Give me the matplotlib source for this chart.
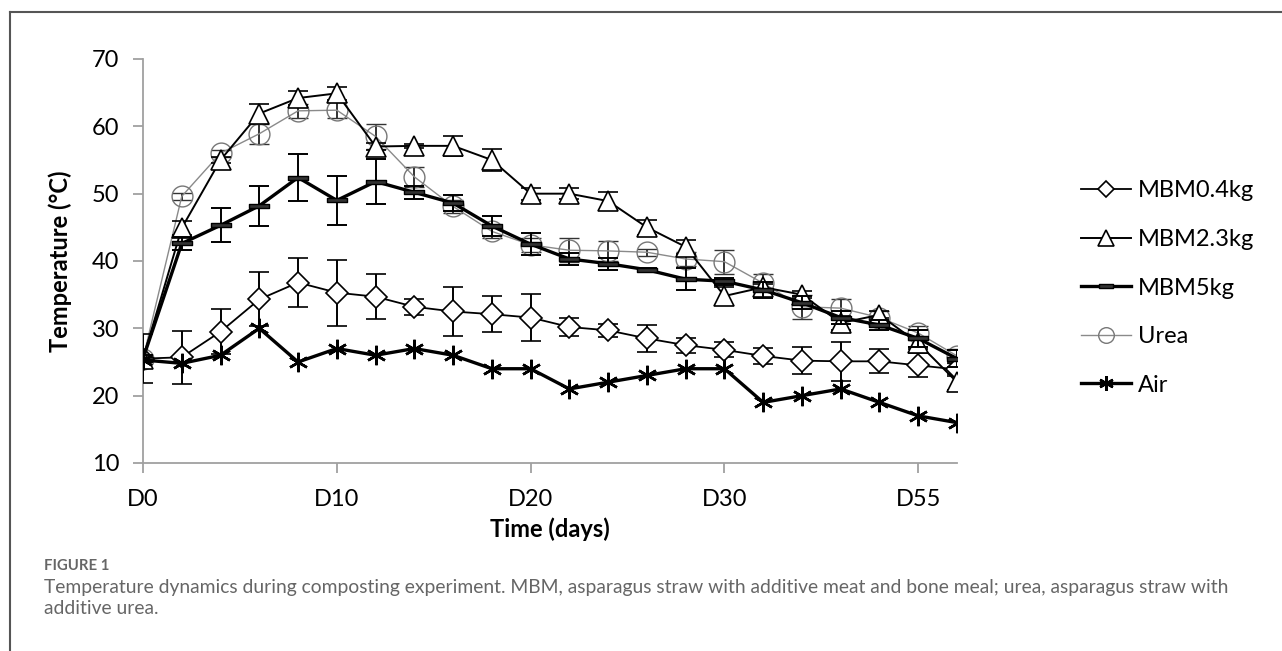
import matplotlib
matplotlib.use("Agg")
import matplotlib.pyplot as plt
from matplotlib.lines import Line2D
from matplotlib.path import Path

plt.rcParams["font.family"] = ["Lato", "DejaVu Sans"]

# sampling points (every 2nd day slot), labelled every 5 points
x = list(range(0, 43, 2))
tick_pos = [0, 10, 20, 30, 40]
tick_labels = ["D0", "D10", "D20", "D30", "D55"]

mbm04 = [25.5, 25.7, 29.5, 34.3, 36.8, 35.3, 34.7, 33.2, 32.5, 32.1, 31.6,
         30.2, 29.7, 28.5, 27.5, 26.8, 25.9, 25.2, 25.1, 25.1, 24.5, 23.9]
mbm04_err = [3.6, 3.9, 3.3, 4.0, 3.7, 4.9, 3.3, 1.2, 3.7, 2.7, 3.5,
             1.4, 1.0, 2.0, 1.1, 1.1, 1.2, 2.0, 2.9, 1.8, 1.8, 1.0]

mbm23 = [25.5, 44.9, 55.0, 61.9, 64.2, 64.9, 57.0, 57.1, 57.1, 55.0, 50.0,
         50.0, 48.9, 45.0, 42.1, 34.8, 36.1, 35.0, 30.8, 32.0, 27.8, 22.0]
mbm23_err = [0.5, 1.0, 0.5, 1.4, 1.0, 1.0, 0.5, 0.3, 1.5, 1.6, 0.9,
             0.8, 1.4, 1.1, 1.0, 1.4, 0.5, 0.5, 1.0, 0.5, 0.8, 1.2]

mbm5 = [25.5, 42.6, 45.3, 48.2, 52.4, 49.0, 51.8, 50.2, 48.6, 45.2, 42.5,
        40.3, 39.6, 38.7, 37.3, 37.0, 35.7, 33.8, 31.6, 30.5, 28.5, 25.5]
mbm5_err = [0.5, 1.0, 2.5, 3.0, 3.5, 3.6, 3.4, 1.0, 1.2, 1.5, 1.6,
            0.9, 0.9, 0.3, 1.6, 0.5, 1.2, 1.0, 1.0, 0.8, 1.2, 1.3]

urea = [25.5, 49.6, 56.0, 58.9, 62.3, 62.4, 58.5, 52.5, 48.1, 44.4, 42.4,
        41.6, 41.5, 41.3, 40.3, 39.9, 36.7, 33.2, 33.0, 31.6, 29.3, 25.9]
urea_err = [0.5, 0.5, 0.5, 1.5, 1.0, 1.2, 1.8, 1.5, 1.0, 1.0, 1.0,
            1.8, 1.5, 0.5, 1.0, 1.8, 1.4, 1.8, 1.4, 1.0, 1.0, 1.0]

air = [25.3, 24.8, 26.0, 30.0, 25.0, 27.0, 26.0, 27.0, 26.0, 24.0, 24.0,
       21.0, 22.0, 23.0, 24.0, 24.0, 19.0, 20.0, 21.0, 19.0, 17.0, 16.0]

# flat bar marker like the Excel "dash"
dash = Path([(-1, -0.22), (1, -0.22), (1, 0.22), (-1, 0.22), (-1, -0.22)],
            [Path.MOVETO, Path.LINETO, Path.LINETO, Path.LINETO, Path.CLOSEPOLY])

fig = plt.figure(figsize=(12.82, 6.51), dpi=100)
ax = fig.add_axes([143 / 1282, 1 - 463 / 651, (957 - 143) / 1282, (463 - 59) / 651])

eb = dict(capsize=7, elinewidth=1.4, capthick=1.4)

ax.errorbar(x, urea, yerr=urea_err, color="#8a8a8a", lw=1.0, marker="o", ms=15,
            mfc="none", mec="#777777", mew=1.0, label="Urea", zorder=2,
            ecolor="#333333", **eb)
ax.errorbar(x, mbm04, yerr=mbm04_err, color="black", lw=1.3, marker="D", ms=11,
            mfc="white", mec="black", mew=1.2, label="MBM0.4kg", zorder=3,
            ecolor="black", **eb)
ax.errorbar(x, mbm23, yerr=mbm23_err, color="black", lw=1.4, marker="^", ms=15,
            mfc="white", mec="black", mew=1.2, label="MBM2.3kg", zorder=3,
            ecolor="black", **eb)
ax.errorbar(x, mbm5, yerr=mbm5_err, color="black", lw=2.4, marker=dash, ms=14,
            mfc="#333333", mec="black", label="MBM5kg", zorder=4,
            ecolor="black", **eb)
ax.plot(x, air, color="black", lw=2.4, marker=(6, 2, 0), ms=14, mew=1.8,
        label="Air", zorder=5)

ax.set_xlim(0, 42)
ax.set_ylim(10, 70)
ax.set_yticks(range(10, 71, 10))
ax.set_xticks(tick_pos)
ax.set_xticklabels(tick_labels)

for s in ["top", "right"]:
    ax.spines[s].set_visible(False)
for s in ["left", "bottom"]:
    ax.spines[s].set_color("#a0a0a0")
    ax.spines[s].set_linewidth(1.3)
ax.tick_params(axis="both", colors="#a0a0a0", length=7, width=1.3,
               labelcolor="black", labelsize=17)
ax.tick_params(axis="x", pad=12)
ax.tick_params(axis="y", pad=10)

ax.set_ylabel("Temperature (°C)", fontsize=17, fontweight="bold", labelpad=14)
ax.set_xlabel("Time (days)", fontsize=17, fontweight="bold", labelpad=5)

handles, labels = ax.get_legend_handles_labels()
order = ["MBM0.4kg", "MBM2.3kg", "MBM5kg", "Urea", "Air"]
hmap = dict(zip(labels, handles))
leg_handles = []
for name in order:
    h = hmap[name]
    line = h[0] if isinstance(h, tuple) else h
    leg_handles.append(Line2D([], [], color=line.get_color(), lw=line.get_linewidth(),
                              marker=line.get_marker(), ms=line.get_markersize() * 0.75,
                              mfc=line.get_markerfacecolor(), mec=line.get_markeredgecolor(),
                              mew=line.get_markeredgewidth()))
fig.legend(leg_handles, order, loc="center left",
           bbox_to_anchor=(1060 / 1282, 1 - 288 / 651), frameon=False,
           fontsize=17, handlelength=2.1, handletextpad=0.3, labelspacing=1.17)

# frame lines (top and left)
fig.add_artist(Line2D([10 / 1282, 10 / 1282], [0, 1 - 12 / 651], color="#555555", lw=1.5))
fig.add_artist(Line2D([10 / 1282, 1], [1 - 12 / 651, 1 - 12 / 651], color="#555555", lw=1.5))

fig.text(44 / 1282, 1 - 566 / 651, "FIGURE 1", fontsize=10.7, color="#666666",
         fontweight="bold", va="center")
fig.text(44 / 1282, 1 - 587 / 651,
         "Temperature dynamics during composting experiment. MBM, asparagus straw with "
         "additive meat and bone meal; urea, asparagus straw with",
         fontsize=13.9, color="#666666", va="center")
fig.text(44 / 1282, 1 - 608 / 651, "additive urea.", fontsize=13.9, color="#666666",
         va="center")

fig.savefig("out.png", dpi=100)
